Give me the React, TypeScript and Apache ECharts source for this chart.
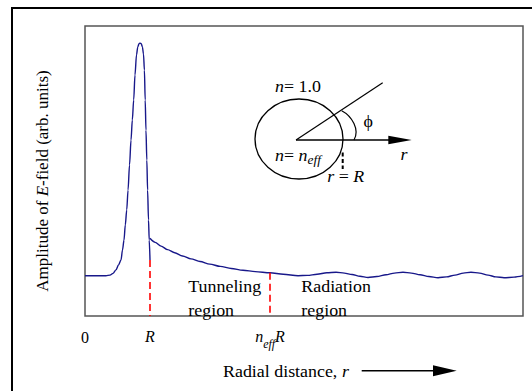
import React, { useEffect, useRef } from 'react';
import * as echarts from 'echarts';

// Radial distance in units of R, amplitude in arbitrary units (0..1)
const coreR = [0, 0.231, 0.323, 0.385, 0.431, 0.477, 0.515, 0.554, 0.577, 0.6, 0.62, 0.642, 0.662, 0.685, 0.708, 0.728, 0.749, 0.769, 0.792, 0.812, 0.831, 0.846, 0.865, 0.883, 0.9, 0.914, 0.926, 0.938, 0.951, 0.963, 0.977, 0.988, 1.0];
const coreAmp = [0.139, 0.139, 0.139, 0.141, 0.147, 0.159, 0.176, 0.193, 0.228, 0.262, 0.314, 0.366, 0.434, 0.521, 0.607, 0.676, 0.745, 0.831, 0.9, 0.928, 0.939, 0.941, 0.939, 0.928, 0.903, 0.848, 0.745, 0.641, 0.538, 0.434, 0.331, 0.262, 0.193];

const tailR = [1.0, 1.08, 1.17, 1.27, 1.38, 1.5, 1.63, 1.77, 1.92, 2.08, 2.25, 2.43, 2.62, 2.846, 3.05, 3.277, 3.42, 3.57, 3.72, 3.862, 3.99, 4.108, 4.23, 4.354, 4.49, 4.631, 4.76, 4.892, 5.02, 5.154, 5.29, 5.431, 5.56, 5.692, 5.82, 5.938, 6.07, 6.2, 6.32, 6.446, 6.6, 6.738];
const tailAmp = [0.268, 0.254, 0.241, 0.229, 0.218, 0.207, 0.197, 0.188, 0.179, 0.171, 0.164, 0.158, 0.153, 0.149, 0.144, 0.139, 0.140, 0.144, 0.149, 0.151, 0.148, 0.143, 0.137, 0.133, 0.136, 0.142, 0.148, 0.151, 0.148, 0.142, 0.136, 0.132, 0.135, 0.141, 0.148, 0.151, 0.148, 0.141, 0.135, 0.132, 0.134, 0.139];

const boundaryR = [1.0, 2.846];
const boundaryAmp = [0.193, 0.149];

const xTickValues = [0, 1.0, 2.846];
const xTickLabels = ['0', '{i|R}', '{i|n}{s|eff}{i|R}'];

const X_MAX = 6.738;

const FAM = "Liberation Serif";
const SX = 1.12;

export default function App() {
  const ref = useRef<HTMLDivElement>(null);

  useEffect(() => {
    if (!ref.current) return;
    const chart = echarts.init(ref.current, undefined, { renderer: 'svg' });

    const coreData = coreR.map((r, i) => [r, coreAmp[i]]);
    const tailData = tailR.map((r, i) => [r, tailAmp[i]]);

    const makeRich = (size: number) => ({
      n: { fontFamily: FAM, fontSize: size, fontStyle: 'normal', fill: '#000' },
      i: { fontFamily: FAM, fontSize: size, fontStyle: 'italic', fill: '#000' },
      s: { fontFamily: FAM, fontSize: 12, fontStyle: 'italic', fill: '#000', padding: [9, 0, 0, 0] },
    });

    const textEl = (text: string, x: number, y: number, extra: any = {}) => ({
      type: 'text',
      x,
      y,
      scaleX: extra.scaleX ?? SX,
      rotation: extra.rotation ?? 0,
      style: {
        text,
        fontFamily: FAM,
        fontSize: extra.size ?? 16,
        fill: '#000',
        align: extra.align ?? 'left',
        verticalAlign: 'middle',
        rich: makeRich(extra.size ?? 16),
      },
    });

    chart.setOption({
      animation: false,
      backgroundColor: '#fff',
      textStyle: { fontFamily: FAM, fontSize: 16, color: '#000' },
      grid: {
        left: 85,
        top: 26,
        right: 9,
        bottom: 75,
        show: true,
        borderColor: '#555',
        borderWidth: 1.5,
        backgroundColor: 'transparent',
      },
      xAxis: {
        type: 'value',
        min: 0,
        max: X_MAX,
        axisLine: { show: false },
        axisTick: { show: false },
        splitLine: { show: false },
        axisLabel: {
          customValues: xTickValues,
          margin: 12,
          color: '#000',
          fontFamily: FAM,
          fontSize: 16,
          lineHeight: 18,
          formatter: (v: number) => {
            const idx = xTickValues.findIndex((t) => Math.abs(t - v) < 1e-6);
            return idx >= 0 ? xTickLabels[idx] : '';
          },
          rich: {
            i: { fontFamily: FAM, fontSize: 16, fontStyle: 'italic', color: '#000', lineHeight: 18, verticalAlign: 'top' },
            s: { fontFamily: FAM, fontSize: 12, fontStyle: 'italic', color: '#000', lineHeight: 12, padding: [10, 0, 0, 0], verticalAlign: 'top' },
          },
        },
      },
      yAxis: {
        type: 'value',
        min: 0,
        max: 1,
        axisLine: { show: false },
        axisTick: { show: false },
        axisLabel: { show: false },
        splitLine: { show: false },
      },
      series: [
        {
          type: 'line',
          data: coreData,
          showSymbol: false,
          smooth: 0.3,
          smoothMonotone: 'x',
          lineStyle: { color: '#18188a', width: 1.4 },
          z: 3,
        },
        {
          type: 'line',
          data: tailData,
          showSymbol: false,
          smooth: 0.3,
          smoothMonotone: 'x',
          lineStyle: { color: '#18188a', width: 1.4 },
          z: 3,
          markLine: {
            silent: true,
            symbol: 'none',
            label: { show: false },
            lineStyle: { color: '#ff0000', type: [7, 4], width: 1.6 },
            data: boundaryR.map((r, i) => [
              { coord: [r, boundaryAmp[i]] },
              { coord: [r, 0] },
            ]),
          },
        },
      ],
      graphic: [
        {
          type: 'rect',
          shape: { x: 12, y: 8, width: 600, height: 500 },
          style: { fill: 'none', stroke: '#000', lineWidth: 2 },
        },
        textEl('{n|Amplitude of }{i|E}{n|-field (arb. units)}', 42, 181, { rotation: Math.PI / 2, align: 'center', scaleX: 1, size: 17 }),
        textEl('{n|Radial distance, }{i|r}', 223, 371.5),
        {
          type: 'line',
          shape: { x1: 361.7, y1: 370.7, x2: 440, y2: 370.7 },
          style: { stroke: '#000', lineWidth: 1.5 },
        },
        {
          type: 'polygon',
          shape: { points: [[433, 365.2], [456.7, 370.7], [433, 376.2]] },
          style: { fill: '#000' },
        },
        textEl('{n|Tunneling}', 188.3, 286.5),
        textEl('{n|region}', 188.3, 311),
        textEl('{n|Radiation}', 301.3, 286.5),
        textEl('{n|region}', 301.3, 311),
        {
          type: 'ellipse',
          shape: { cx: 299, cy: 139, rx: 44, ry: 40 },
          style: { fill: 'none', stroke: '#000', lineWidth: 1.3 },
        },
        {
          type: 'line',
          shape: { x1: 296, y1: 140, x2: 382.7, y2: 82.7 },
          style: { stroke: '#000', lineWidth: 1.2 },
        },
        {
          type: 'line',
          shape: { x1: 296, y1: 140, x2: 392, y2: 140 },
          style: { stroke: '#000', lineWidth: 1.6 },
        },
        {
          type: 'polygon',
          shape: { points: [[388.3, 135.7], [411.7, 140], [388.3, 144.3]] },
          style: { fill: '#000' },
        },
        {
          type: 'bezierCurve',
          shape: { x1: 341.7, y1: 110.7, cpx1: 352, cpy1: 116, cpx2: 360, cpy2: 130, x2: 354, y2: 140 },
          style: { fill: 'none', stroke: '#000', lineWidth: 1.2 },
        },
        {
          type: 'line',
          shape: { x1: 342.7, y1: 152.5, x2: 342.7, y2: 169 },
          style: { stroke: '#000', lineWidth: 2, lineDash: [4, 2.5] },
        },
        textEl('{i|n}{n|= 1.0}', 275, 87),
        textEl('{n|ϕ}', 363.5, 121.5),
        textEl('{i|r}', 400.5, 155),
        textEl('{i|n}{n|= }{i|n}{s|eff}', 275, 156),
        textEl('{i|r}{n| = }{i|R}', 327.3, 176.7),
      ],
    });

    return () => chart.dispose();
  }, []);

  return (
    <div
      ref={ref}
      style={{ position: 'fixed', left: 0, top: 0, width: 532, height: 391, background: '#fff' }}
    />
  );
}
